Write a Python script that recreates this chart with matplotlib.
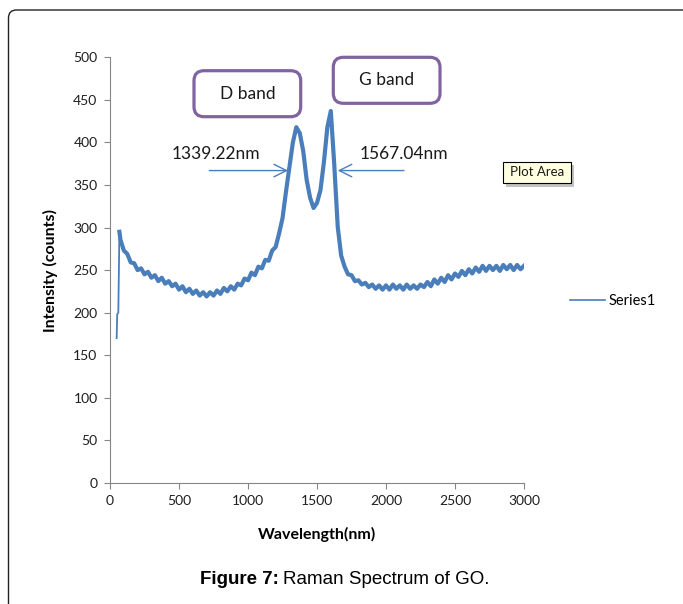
import matplotlib
matplotlib.use("Agg")
import matplotlib.pyplot as plt
from matplotlib.patches import FancyBboxPatch
from matplotlib.lines import Line2D

# Raman spectrum (wavelength in nm, intensity in counts)
wavelength = [48, 52, 60, 68] + list(range(75, 3001, 25))
counts = [170, 198, 200, 295,
          286, 273, 269, 259, 258, 250, 252, 245, 248, 241,
          244, 237, 241, 234, 237, 231, 234, 227, 231, 224,
          228, 222, 226, 220, 224, 219, 224, 220, 226, 222,
          229, 225, 231, 227, 234, 232, 240, 238, 247, 244,
          254, 252, 262, 261, 273, 277, 293, 311, 342, 371,
          400, 418, 411, 390, 356, 335, 323, 329, 344, 377,
          418, 437, 374, 301, 267, 254, 245, 244, 237, 238,
          233, 235, 230, 233, 228, 232, 227, 232, 227, 233,
          228, 232, 227, 233, 228, 232, 228, 233, 230, 236,
          231, 239, 234, 241, 236, 244, 239, 246, 242, 249,
          244, 251, 246, 253, 248, 255, 249, 255, 250, 255,
          249, 256, 251, 256, 250, 256, 251, 255]

x_ticks = [0, 500, 1000, 1500, 2000, 2500, 3000]
y_ticks = [0, 50, 100, 150, 200, 250, 300, 350, 400, 450, 500]

blue = '#4A7EBB'
purple = '#8064A2'
grey = '#868686'

plt.rcParams['font.family'] = ['Lato', 'DejaVu Sans']

fig = plt.figure(figsize=(6.83, 6.04), dpi=100)
ax = fig.add_axes([0.1611, 0.2008, 0.6061, 0.7041])

# the rising edge at the start is a thin trace, the noisy rest reads as a thick band
ax.plot(wavelength[:4], counts[:4], color=blue, linewidth=1.3)
ax.plot(wavelength[3:], counts[3:], color=blue, linewidth=3.0, solid_joinstyle='round')

ax.set_xlim(0, 3000)
ax.set_ylim(0, 500)
ax.set_xticks(x_ticks)
ax.set_yticks(y_ticks)
ax.tick_params(direction='out', length=4, color=grey, labelsize=10,
               labelcolor='#1f1f1f', pad=5)
for side in ['top', 'right']:
    ax.spines[side].set_visible(False)
for side in ['left', 'bottom']:
    ax.spines[side].set_color(grey)

ax.set_xlabel('Wavelength(nm)', fontsize=11.5, fontweight='bold')
ax.set_ylabel('Intensity (counts)', fontsize=11.5, fontweight='bold')
ax.xaxis.set_label_coords(0.5, -0.105)
ax.yaxis.set_label_coords(-0.125, 0.5)

# peak markers
ax.annotate('', xy=(1310, 367), xytext=(700, 367),
            arrowprops=dict(arrowstyle='->,head_length=0.9,head_width=0.45',
                            color=blue, lw=1))
ax.annotate('', xy=(1630, 367), xytext=(2150, 367),
            arrowprops=dict(arrowstyle='->,head_length=0.9,head_width=0.45',
                            color=blue, lw=1))
ax.text(768, 387, '1339.22nm', fontsize=12.5, ha='center', va='center', color='#1a1a1a')
ax.text(2133, 386, '1567.04nm', fontsize=12.5, ha='center', va='center', color='#1a1a1a')

# band boxes (inches from the bottom left corner of the figure)
inch = fig.dpi_scale_trans
for x0, y0, label in [(1.94, 4.873, 'D band'), (3.333, 5.007, 'G band')]:
    fig.patches.append(FancyBboxPatch((x0, y0), 1.067, 0.46,
                                      boxstyle='round,pad=0,rounding_size=0.1',
                                      transform=inch, facecolor='white',
                                      edgecolor=purple, linewidth=2.3))
    fig.text(x0 + 0.5335, y0 + 0.23, label, transform=inch, fontsize=12.5,
             ha='center', va='center', color='#1a1a1a')

# "Plot Area" tooltip
fig.patches.append(FancyBboxPatch((5.06, 4.175), 0.68, 0.216, boxstyle='square,pad=0',
                                  transform=inch, facecolor='#9a9a9a',
                                  edgecolor='none', alpha=0.6))
fig.patches.append(FancyBboxPatch((5.027, 4.207), 0.68, 0.216, boxstyle='square,pad=0',
                                  transform=inch, facecolor='#FFFFE1',
                                  edgecolor='black', linewidth=0.8))
fig.text(5.367, 4.315, 'Plot Area', transform=inch, fontsize=9.5,
         ha='center', va='center', color='#1a1a1a')

# legend
ax.legend(handles=[Line2D([0], [0], color=blue, lw=1.2)], labels=['Series1'],
          loc='center left', bbox_to_anchor=(0.8346, 0.5017),
          bbox_transform=fig.transFigure, frameon=False, fontsize=10.5,
          handlelength=2.4, handletextpad=0.25, borderpad=0, borderaxespad=0)

# outer frame of the figure panel
fig.patches.append(FancyBboxPatch((0.085, -0.5), 8.0, 6.44,
                                  boxstyle='round,pad=0,rounding_size=0.08',
                                  transform=inch, facecolor='none',
                                  edgecolor='#222222', linewidth=1))

# caption
fig.text(2.785, 0.24, 'Figure 7:', transform=inch, fontsize=13.5, fontweight='bold',
         family='Liberation Sans', ha='right', va='center')
fig.text(2.83, 0.24, 'Raman Spectrum of GO.', transform=inch, fontsize=13.5,
         family='Liberation Sans', ha='left', va='center')

fig.savefig('out.png', dpi=100)
